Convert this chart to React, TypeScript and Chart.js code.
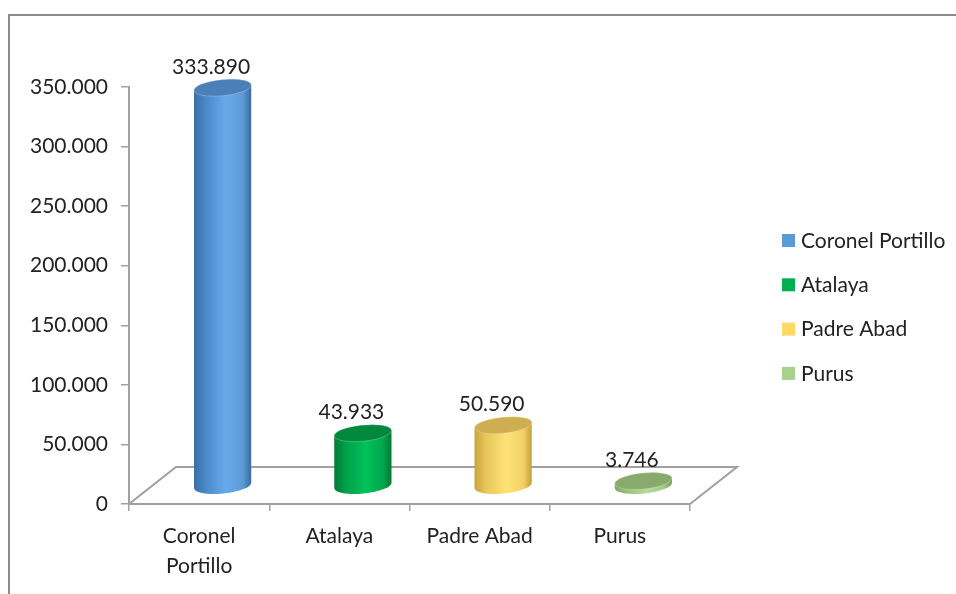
import React, { useEffect, useRef } from 'react';
import { Chart, registerables } from 'chart.js';

Chart.register(...registerables);

// ---- data ----
const categories: (string | string[])[] = [['Coronel', 'Portillo'], 'Atalaya', 'Padre Abad', 'Purus'];
const legendLabels: string[] = ['Coronel Portillo', 'Atalaya', 'Padre Abad', 'Purus'];
const values: number[] = [333890, 43933, 50590, 3746];
const yMin = 0;
const yMax = 350000;
const yStep = 50000;

// ---- styles ----
const baseColors = ['#5B9BD5', '#00B050', '#FFD966', '#A9D18E'];
const bodyStops = [
  ['#3b6ea6', '#4a88c8', '#66aaec', '#5d9ad6', '#3a6aa0'],
  ['#007a36', '#00a04a', '#00c25a', '#00a84c', '#007834'],
  ['#c9a43e', '#e8c65a', '#ffe276', '#f2d264', '#c29e3a'],
  ['#7fa563', '#98c07a', '#b4dc98', '#a2ca86', '#7a9e60'],
];
const topColors = ['#4a7fb8', '#00883e', '#cfae52', '#88aa6c'];
const FONT = 'Lato, "Open Sans", sans-serif';
const FS = 21;
const TEXT = '#222222';
const AXIS = '#a0a0a0';

const fmt = (v: number) => String(Math.round(v)).replace(/\B(?=(\d{3})+(?!\d))/g, '.');

const DX = 23.5; // half floor depth (x)
const DY = -18.5; // half floor depth (y)

const cylinderPlugin = {
  id: 'cyl3d',
  beforeDraw(chart: any) {
    const ctx = chart.ctx;
    ctx.save();
    ctx.fillStyle = '#ffffff';
    ctx.fillRect(0, 0, chart.width, chart.height);
    ctx.strokeStyle = '#8c8c8c';
    ctx.lineWidth = 2;
    ctx.strokeRect(9, 15, 3000, 3000);
    ctx.restore();
  },
  beforeDatasetsDraw(chart: any) {
    const { ctx, chartArea } = chart;
    const l = chartArea.left, r = chartArea.right, b = chartArea.bottom;
    ctx.save();
    ctx.strokeStyle = AXIS;
    ctx.lineWidth = 2;
    ctx.beginPath();
    ctx.moveTo(l, b);
    ctx.lineTo(l + 2 * DX, b + 2 * DY);
    ctx.lineTo(r + 2 * DX, b + 2 * DY);
    ctx.lineTo(r, b);
    ctx.stroke();
    ctx.restore();
  },
  afterDatasetsDraw(chart: any) {
    const { ctx, chartArea } = chart;
    const meta = chart.getDatasetMeta(0);
    const yScale = chart.scales.y;
    const base0 = yScale.getPixelForValue(0);
    meta.data.forEach((el: any, i: number) => {
      const cx = el.x + DX;
      const w = el.width;
      const rx = w / 2;
      const ry = 8;
      const rot = -0.1;
      const baseY = base0 + DY;
      const topY = el.y + DY;
      ctx.save();
      const g = ctx.createLinearGradient(cx - rx, 0, cx + rx, 0);
      const st = bodyStops[i];
      g.addColorStop(0, st[0]);
      g.addColorStop(0.2, st[1]);
      g.addColorStop(0.55, st[2]);
      g.addColorStop(0.85, st[3]);
      g.addColorStop(1, st[4]);
      ctx.beginPath();
      ctx.ellipse(cx, baseY, rx, ry, rot, 0, Math.PI, false);
      ctx.ellipse(cx, topY, rx, ry, rot, Math.PI, 2 * Math.PI, false);
      ctx.closePath();
      ctx.fillStyle = g;
      ctx.fill();
      // top cap
      ctx.beginPath();
      ctx.ellipse(cx, topY, rx, ry, rot, 0, 2 * Math.PI);
      ctx.fillStyle = topColors[i];
      ctx.fill();
      ctx.lineWidth = 1;
      ctx.strokeStyle = 'rgba(255,255,255,0.25)';
      ctx.stroke();
      ctx.restore();

      // value label
      ctx.save();
      ctx.font = `${FS}px ${FONT}`;
      ctx.fillStyle = TEXT;
      ctx.textAlign = 'center';
      ctx.textBaseline = 'middle';
      ctx.fillText(fmt(values[i]), el.x + 12, el.y - 39);
      ctx.restore();
    });

    // legend
    ctx.save();
    ctx.font = `${FS}px ${FONT}`;
    ctx.textBaseline = 'middle';
    ctx.textAlign = 'left';
    const lx = chartArea.right + 92;
    legendLabels.forEach((lab, i) => {
      const y = 241 + i * 44.3;
      ctx.fillStyle = baseColors[i];
      ctx.fillRect(lx, y - 7, 13, 13);
      ctx.fillStyle = TEXT;
      ctx.fillText(lab, lx + 19, y);
    });
    ctx.restore();
  },
};

export default function App() {
  const ref = useRef<HTMLCanvasElement | null>(null);
  useEffect(() => {
    document.body.style.margin = '0';
    const canvas = ref.current!;
    const chart = new Chart(canvas, {
      type: 'bar',
      data: {
        labels: categories as any,
        datasets: [
          {
            data: values,
            backgroundColor: 'rgba(0,0,0,0)',
            borderWidth: 0,
            barPercentage: 0.82,
            categoryPercentage: 0.5,
          },
        ],
      },
      options: {
        responsive: false,
        animation: false,
        maintainAspectRatio: false,
        layout: { padding: { left: 0, right: 266, top: 87, bottom: 0 } },
        plugins: { legend: { display: false }, tooltip: { enabled: false } },
        scales: {
          x: {
            grid: { offset: true, drawOnChartArea: false, drawTicks: true, tickLength: 7, color: AXIS, lineWidth: 1.5 },
            border: { color: AXIS, width: 2 },
            ticks: { color: TEXT, font: { family: FONT, size: FS, lineHeight: 1.4 }, padding: 11, maxRotation: 0, autoSkip: false },
            afterFit: (s: any) => { s.height = 90; },
          },
          y: {
            min: yMin,
            max: yMax,
            grid: { drawOnChartArea: false, drawTicks: true, tickLength: 8, color: AXIS, lineWidth: 1.5 },
            border: { color: AXIS, width: 2 },
            ticks: { stepSize: yStep, color: TEXT, font: { family: FONT, size: FS }, padding: 13, callback: (v: any) => fmt(Number(v)) },
            afterFit: (s: any) => { s.width = 129; },
          },
        },
      },
      plugins: [cylinderPlugin],
    });
    return () => chart.destroy();
  }, []);
  return <canvas ref={ref} width={956} height={594} style={{ display: 'block' }} />;
}
